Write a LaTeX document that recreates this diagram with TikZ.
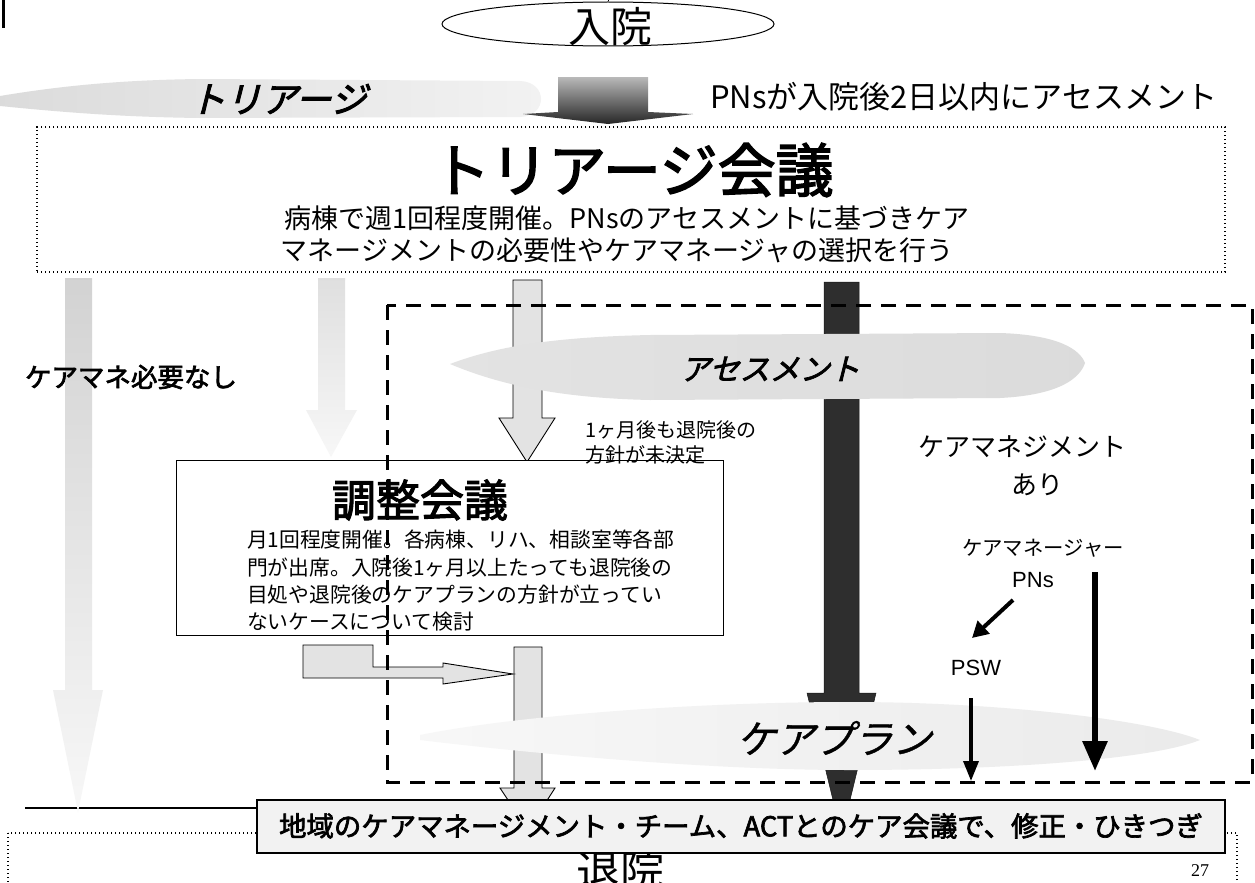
\documentclass[tikz,border=0pt]{standalone}
\usepackage{fontspec}
\usetikzlibrary{shapes.geometric,arrows.meta,calc}
\newfontfamily\jp{Noto Sans CJK JP}
\newfontfamily\jpb[FakeBold=2.5]{Noto Sans CJK JP}
\newfontfamily\jpib[FakeSlant=0.25,FakeBold=2.5]{Noto Sans CJK JP}
\newfontfamily\jpis[FakeSlant=0.25,FakeBold=1]{Noto Sans CJK JP}
\newfontfamily\arialfont{Liberation Sans}
\newfontfamily\serifnum{Liberation Serif}
\tikzset{
  txt/.style={inner sep=0pt, outer sep=0pt, align=center, text=black},
  dotbox/.style={draw=black, line width=1.4pt, dash pattern=on 1.4pt off 2.6pt},
  dashrect/.style={draw=black, line width=3pt, dash pattern=on 15pt off 10pt},
  greyarrow/.style={draw=black, line width=0.9pt, fill=gray!22},
  darkarrow/.style={fill=black!82, draw=black!90, line width=0.5pt},
  blackarrow/.style={draw=black, line width=#1},
}
\begin{document}
\begin{tikzpicture}[x=1pt,y=-1pt]
\useasboundingbox (0,0) rectangle (1255,883);
\clip (0,0) rectangle (1255,883);
\fill[white] (0,0) rectangle (1255,883);

% top-left stub
\draw[line width=3pt] (3,0) -- (3,28);

% admission ellipse
\node[draw=black, line width=1pt, ellipse, minimum width=332pt, minimum height=44pt, inner sep=0pt] (admitshape) at (608,24) {};
\node[txt, font={\jp\fontsize{42}{44}\selectfont}] (admit) at (610,27) {入院};
\draw[line width=1pt] (admitshape.north) -- ++(0,-8);

% triage band
\shade[left color=gray!28, right color=gray!10] (0,96) .. controls (60,86) and (120,80) .. (200,79) -- (520,81) .. controls (548,82) and (548,116) .. (520,117) -- (200,118) .. controls (120,117) and (60,112) .. (0,106) -- cycle;
\node[txt, font={\jpib\fontsize{36}{38}\selectfont}] (triage) at (278,99) {トリアージ};

% dark block arrow at top
\shade[top color=gray!55, bottom color=black!85] (558,77) -- (648,77) -- (648,112) -- (693,114) -- (608,124) -- (523,114) -- (558,112) -- cycle;

\node[txt, anchor=west, font={\jp\fontsize{31}{33}\selectfont}] (pnsassess) at (710,97) {PNsが入院後2日以内にアセスメント};

% triage meeting box
\node[dotbox, minimum width=1188pt, minimum height=145pt, inner sep=0pt] (tribox) at (631,199.5) {};
\node[txt, font={\jpb\fontsize{58}{60}\selectfont}] (trititle) at (633,170) {トリアージ会議};
\node[txt, font={\jp\fontsize{27}{29}\selectfont}] (triline1) at (627,218) {病棟で週1回程度開催。PNsのアセスメントに基づきケア};
\node[txt, font={\jp\fontsize{27}{29}\selectfont}] (triline2) at (617,250) {マネージメントの必要性やケアマネージャの選択を行う};

% discharge dotted box and left line
\draw[dotbox] (8,833) rectangle (1237,910);
\node[txt, font={\jp\fontsize{44}{46}\selectfont}] (discharge) at (620,871) {退院};
\node[txt, font={\serifnum\fontsize{18}{20}\selectfont}] (pagenum) at (1200,871) {27};
\coordinate (lineL) at (25,808);
\draw[line width=1.6pt] (lineL) -- (257,808);

% pale arrows
\shade[top color=gray!35, bottom color=gray!6] (65,278) -- (92,278) -- (92,690) -- (103,690) -- (78,812) -- (53,690) -- (65,690) -- cycle;
\shade[top color=gray!25, bottom color=gray!6] (318,278) -- (345,278) -- (345,410) -- (357,410) -- (331,457) -- (306,410) -- (318,410) -- cycle;
\node[txt, anchor=west, font={\jpb\fontsize{26.5}{28}\selectfont}] (nocm) at (25,377) {ケアマネ必要なし};

% grey and dark arrows
\draw[greyarrow] (513,280) -- (542,280) -- (542,418) -- (555,418) -- (527,462) -- (499,418) -- (513,418) -- cycle;
\draw[darkarrow] (824,282) -- (859,282) -- (859,693) -- (876,693) -- (841.5,835) -- (807,693) -- (824,693) -- cycle;
\draw[greyarrow] (514,647) -- (542,647) -- (542,788) -- (555,788) -- (528,830) -- (500,788) -- (514,788) -- cycle;
\draw[greyarrow] (303,645) -- (373,645) -- (373,667) -- (443,667) -- (443,663) -- (513,674) -- (443,684) -- (443,678) -- (303,678) -- cycle;

% coordination meeting box
\node[draw=black, line width=1pt, fill=white, minimum width=547pt, minimum height=175pt, inner sep=0pt] (coordbox) at (449.5,547.5) {};
\node[txt, font={\jpb\fontsize{44}{46}\selectfont}] (coordtitle) at (420,500) {調整会議};
\node[txt, anchor=west, font={\jp\fontsize{20.8}{22}\selectfont}] (cl1) at (247,540) {月1回程度開催。各病棟、リハ、相談室等各部};
\node[txt, anchor=west, font={\jp\fontsize{20.8}{22}\selectfont}] (cl2) at (247,567.5) {門が出席。入院後1ヶ月以上たっても退院後の};
\node[txt, anchor=west, font={\jp\fontsize{20.8}{22}\selectfont}] (cl3) at (247,595) {目処や退院後のケアプランの方針が立ってい};
\node[txt, anchor=west, font={\jp\fontsize{20.8}{22}\selectfont}] (cl4) at (247,622) {ないケースについて検討};

% assessment band
\shade[left color=gray!22, right color=gray!28] (450,364) .. controls (500,345) and (560,337) .. (650,335) -- (1000,333) .. controls (1060,335) and (1080,350) .. (1085,363) .. controls (1080,378) and (1060,395) .. (1000,398) -- (650,400) .. controls (560,398) and (500,385) .. (450,364) -- cycle;
\node[txt, font={\jpib\fontsize{30}{32}\selectfont}] (assess) at (770,369) {アセスメント};

% care plan band
\shade[left color=gray!6, right color=gray!16] (420,735) .. controls (520,715) and (700,702) .. (850,702) .. controls (1000,702) and (1150,720) .. (1200,740) .. controls (1150,760) and (1000,770) .. (850,770) .. controls (700,770) and (520,752) .. (420,740) -- cycle;
\node[txt, font={\jpis\fontsize{39}{41}\selectfont}] (careplan) at (834,738) {ケアプラン};

% pending note
\node[txt, anchor=west, font={\jp\fontsize{20}{22}\selectfont}] (note1) at (585,430) {1ヶ月後も退院後の};
\node[txt, anchor=west, font={\jp\fontsize{20}{22}\selectfont}] (note2) at (585,455) {方針が未決定};

% dashed rectangle
\draw[dashrect] (387,305) rectangle (1252,782);

% care management side
\node[txt, font={\jp\fontsize{26}{28}\selectfont}] (cmyes) at (1022,447) {ケアマネジメント};
\node[txt, font={\jp\fontsize{26}{28}\selectfont}] (ari) at (1037,485) {あり};
\node[txt, font={\jp\fontsize{20.4}{22}\selectfont}] (cmgr) at (1043,548) {ケアマネージャー};
\node[txt, font={\arialfont\fontsize{22}{24}\selectfont}] (pns) at (1033,580) {PNs};
\node[txt, font={\arialfont\fontsize{22}{24}\selectfont}] (psw) at (976,668) {PSW};
\coordinate (diagS) at (1013,600);
\coordinate (diagE) at (972,638);
\draw[blackarrow=4pt, -{Triangle[length=16pt,width=17pt]}] (diagS) -- (diagE);
\coordinate (pswS) at (971,698);
\coordinate (pswE) at (971,781);
\draw[blackarrow=3.5pt, -{Triangle[length=20pt,width=15pt]}] (pswS) -- (pswE);
\coordinate (pnsS) at (1095,572);
\coordinate (pnsE) at (1095,771);
\draw[blackarrow=6pt, -{Triangle[length=30pt,width=24pt]}] (pnsS) -- (pnsE);

% bottom box
\node[draw=black, line width=1.2pt, fill=gray!10, minimum width=968pt, minimum height=53pt, inner sep=0pt] (handover) at (741,826.5) {};
\node[txt, font={\jpb\fontsize{27.4}{30}\selectfont}] (handtext) at (741,826) {地域のケアマネージメント・チーム、ACTとのケア会議で、修正・ひきつぎ};
\end{tikzpicture}
\end{document}
